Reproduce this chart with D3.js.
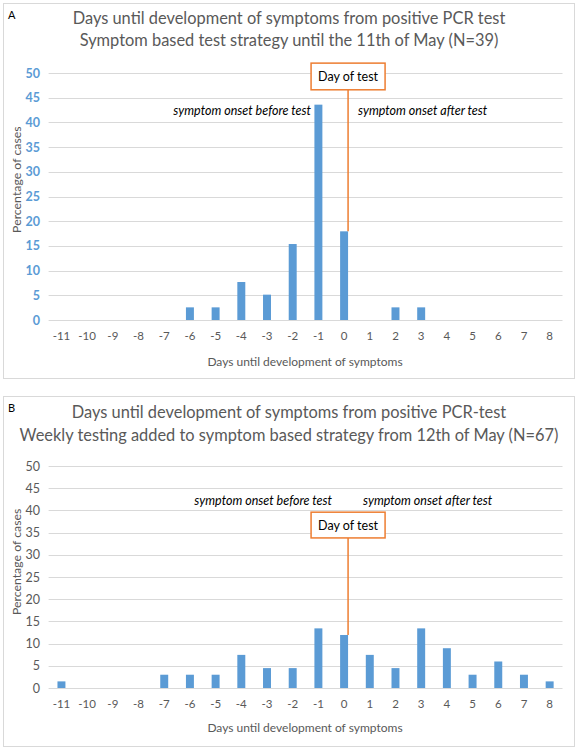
<!DOCTYPE html>
<html>
<head>
<meta charset="utf-8">
<script src="https://cdn.jsdelivr.net/npm/d3@7"></script>
<style>
  html, body { margin: 0; padding: 0; background: #fff; }
  svg { display: block; font-family: Lato, "Open Sans", sans-serif; }
</style>
</head>
<body>
<svg id="chart" width="578" height="749"></svg>
<script>
// ---------- DATA ----------
const days = [-11, -10, -9, -8, -7, -6, -5, -4, -3, -2, -1, 0, 1, 2, 3, 4, 5, 6, 7, 8];
const yTicks = [0, 5, 10, 15, 20, 25, 30, 35, 40, 45, 50];

const titleA = ["Days until development of symptoms from positive PCR test",
                "Symptom based test strategy until the 11th of May (N=39)"];
const valuesA = [0, 0, 0, 0, 0, 2.56, 2.56, 7.69, 5.13, 15.38, 43.59, 17.95, 0, 2.56, 2.56, 0, 0, 0, 0, 0];

const titleB = ["Days until development of symptoms from positive PCR-test",
                "Weekly testing added to symptom based strategy from 12th of May (N=67)"];
const valuesB = [1.49, 0, 0, 0, 2.99, 2.99, 2.99, 7.46, 4.48, 4.48, 13.43, 11.94, 7.46, 4.48, 13.43, 8.96, 2.99, 5.97, 2.99, 1.49];

const xAxisTitle = "Days until development of symptoms";
const yAxisTitle = "Percentage of cases";
const annotBefore = "symptom onset before test";
const annotAfter = "symptom onset after test";
const boxLabel = "Day of test";
// annotation heights in data units (percentage)
const annotLevelA = 42.4, annotLevelB = 42.2;
const boxTopA = 52, boxBottomA = 46.6;
const boxTopB = 39.6, boxBottomB = 33.8;
// y-axis title centre in data units
const yTitleLevelA = 28.4, yTitleLevelB = 28.4;

// ---------- DRAW ----------
const svg = d3.select("#chart");
const blue = "#5b9bd5", orange = "#ed7d31", grid = "#d9d9d9", gray = "#595959";

function panel(cfg) {
  const g = svg.append("g");
  // frame
  g.append("rect").attr("x", 3.5).attr("y", cfg.frameTop + 0.5)
    .attr("width", 571).attr("height", cfg.frameH)
    .attr("fill", "#fff").attr("stroke", grid).attr("stroke-width", 1);
  g.append("text").attr("x", 8).attr("y", cfg.frameTop + 16)
    .attr("font-size", 11).attr("fill", "#000").text(cfg.letter);
  cfg.title.forEach((t, i) => {
    g.append("text").attr("x", 289).attr("y", cfg.titleY[i])
      .attr("text-anchor", "middle").attr("font-size", cfg.titleSize)
      .attr("fill", gray).text(t);
  });

  const x = d3.scaleBand().domain(days).range([48.6, 562.5]).paddingInner(0.69).paddingOuter(0.345);
  const y = d3.scaleLinear().domain([0, 50]).range([cfg.y0, cfg.y50]);

  // gridlines
  g.append("g").selectAll("line").data(yTicks).join("line")
    .attr("x1", 48.6).attr("x2", 562.5)
    .attr("y1", d => Math.round(y(d)) + 0.5).attr("y2", d => Math.round(y(d)) + 0.5)
    .attr("stroke", grid).attr("stroke-width", 1);

  // y axis labels
  const ya = g.append("g").attr("transform", "translate(40,0)")
    .call(d3.axisLeft(y).tickValues(yTicks).tickSize(0).tickPadding(0));
  ya.select(".domain").remove();
  ya.selectAll("text").attr("font-family", "Lato, sans-serif")
    .attr("font-size", 12.5).attr("font-weight", cfg.yBold ? "bold" : "normal")
    .attr("fill", cfg.yColor);

  // x axis labels
  const xa = g.append("g").attr("transform", `translate(0,${cfg.y0})`)
    .call(d3.axisBottom(x).tickSize(0).tickPadding(12));
  xa.select(".domain").remove();
  xa.selectAll("text").attr("font-family", "Lato, sans-serif")
    .attr("font-size", 11.5).attr("fill", gray);

  // bars
  g.append("g").selectAll("rect").data(days.map((d, i) => ({ d, v: cfg.values[i] })).filter(o => o.v > 0))
    .join("rect")
    .attr("x", o => x(o.d)).attr("width", x.bandwidth())
    .attr("y", o => y(o.v)).attr("height", o => y(0) - y(o.v))
    .attr("fill", blue);

  // axis titles
  g.append("text").attr("x", 305).attr("y", cfg.y0 + cfg.xTitleOff)
    .attr("text-anchor", "middle").attr("font-size", 12).attr("fill", gray).text(xAxisTitle);
  g.append("text").attr("transform", `translate(21,${y(cfg.yTitleLevel)}) rotate(-90)`)
    .attr("text-anchor", "middle").attr("font-size", 12.3).attr("fill", gray).text(yAxisTitle);

  // Day of test marker
  const lx = x(0) + x.bandwidth();
  const v0 = cfg.values[days.indexOf(0)];
  g.append("line").attr("x1", lx).attr("x2", lx)
    .attr("y1", y(cfg.boxBottom)).attr("y2", y(v0))
    .attr("stroke", orange).attr("stroke-width", 1.5);
  g.append("rect").attr("x", lx - 37).attr("y", y(cfg.boxTop))
    .attr("width", 74).attr("height", y(cfg.boxBottom) - y(cfg.boxTop))
    .attr("fill", "#fff").attr("stroke", orange).attr("stroke-width", 1.5);
  g.append("text").attr("x", lx).attr("y", (y(cfg.boxTop) + y(cfg.boxBottom)) / 2 + 4.5)
    .attr("text-anchor", "middle").attr("font-size", 12.5).attr("fill", "#000").text(boxLabel);

  // annotations
  g.append("text").attr("x", cfg.beforeEnd).attr("y", y(cfg.annot) + 4)
    .attr("text-anchor", "end").attr("font-size", 12.5).attr("font-style", "italic")
    .attr("fill", "#000").text(annotBefore);
  g.append("text").attr("x", cfg.afterStart).attr("y", y(cfg.annot) + 4)
    .attr("text-anchor", "start").attr("font-size", 12.5).attr("font-style", "italic")
    .attr("fill", "#000").text(annotAfter);
}

panel({
  letter: "A", frameTop: 3, frameH: 375, title: titleA, titleY: [24, 46], titleSize: 16.4,
  values: valuesA, y0: 320, y50: 73, yBold: true, yColor: blue, xTitleOff: 46, yTitleLevel: yTitleLevelA,
  boxTop: boxTopA, boxBottom: boxBottomA, annot: annotLevelA, beforeEnd: 311, afterStart: 358
});
panel({
  letter: "B", frameTop: 396, frameH: 350, title: titleB, titleY: [418, 441], titleSize: 16.4,
  values: valuesB, y0: 688, y50: 466, yBold: false, yColor: gray, xTitleOff: 44, yTitleLevel: yTitleLevelB,
  boxTop: boxTopB, boxBottom: boxBottomB, annot: annotLevelB, beforeEnd: 332, afterStart: 363
});
</script>
</body>
</html>
